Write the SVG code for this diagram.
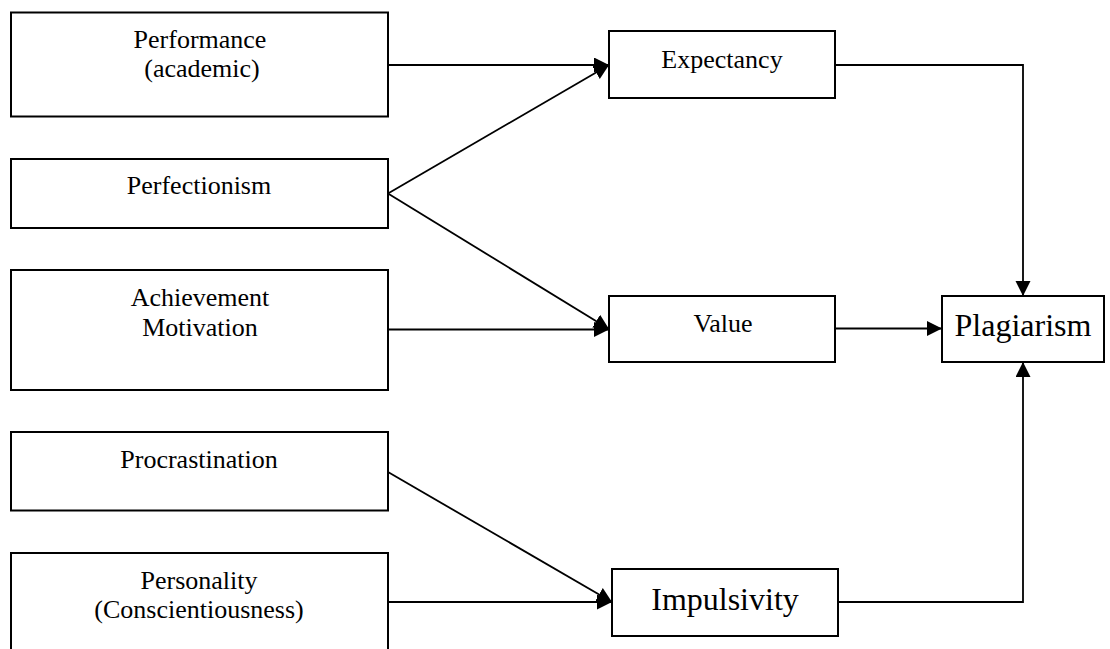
<svg xmlns="http://www.w3.org/2000/svg" width="1110" height="649" viewBox="0 0 1110 649">
<style>
.box{fill:#fff;stroke:#000;stroke-width:2}
.lbl{font-family:"Liberation Serif","Times New Roman",serif;font-size:26px;fill:#000;text-anchor:middle}
.big{font-size:32px}
.con{fill:none;stroke:#000;stroke-width:1.8}
</style>
<defs>
<marker id="ah" markerUnits="userSpaceOnUse" markerWidth="16" markerHeight="16" refX="15" refY="7.5" orient="auto">
<path d="M0,0 L15,7.5 L0,15 z" fill="#000"/>
</marker>
</defs>
<rect width="1110" height="649" fill="#fff"/>
<g id="performance">
<rect class="box" x="11" y="12.5" width="377" height="104"/>
<text class="lbl" x="200" y="48">Performance</text>
<text class="lbl" x="202" y="77">(academic)</text>
</g>
<g id="perfectionism">
<rect class="box" x="11" y="159" width="377" height="69"/>
<text class="lbl" x="199" y="194">Perfectionism</text>
</g>
<g id="achievement">
<rect class="box" x="11" y="270" width="377" height="120"/>
<text class="lbl" x="200" y="306">Achievement</text>
<text class="lbl" x="200" y="336">Motivation</text>
</g>
<g id="procrastination">
<rect class="box" x="11" y="432" width="377" height="78.5"/>
<text class="lbl" x="199" y="468">Procrastination</text>
</g>
<g id="personality">
<rect class="box" x="11" y="553" width="377" height="110"/>
<text class="lbl" x="199" y="589">Personality</text>
<text class="lbl" x="199" y="618">(Conscientiousness)</text>
</g>
<g id="expectancy">
<rect class="box" x="609" y="31" width="226" height="67"/>
<text class="lbl" x="722" y="68">Expectancy</text>
</g>
<g id="value">
<rect class="box" x="609" y="296" width="226" height="66"/>
<text class="lbl" x="723" y="332">Value</text>
</g>
<g id="impulsivity">
<rect class="box" x="612" y="569" width="226" height="67"/>
<text class="lbl big" x="725" y="610">Impulsivity</text>
</g>
<g id="plagiarism">
<rect class="box" x="942" y="296" width="162" height="66"/>
<text class="lbl big" x="1023" y="336">Plagiarism</text>
</g>
<g id="connectors">
<path class="con" d="M388,65 L609,65" marker-end="url(#ah)"/>
<path class="con" d="M388,193.5 L609,65" marker-end="url(#ah)"/>
<path class="con" d="M388,193.5 L609,329" marker-end="url(#ah)"/>
<path class="con" d="M388,329.5 L609,329.5" marker-end="url(#ah)"/>
<path class="con" d="M388,472 L612,602" marker-end="url(#ah)"/>
<path class="con" d="M388,602 L612,602" marker-end="url(#ah)"/>
<path class="con" d="M835,65 L1023,65 L1023,296" marker-end="url(#ah)"/>
<path class="con" d="M835,328.5 L942,328.5" marker-end="url(#ah)"/>
<path class="con" d="M838,602 L1023,602 L1023,362" marker-end="url(#ah)"/>
</g>
</svg>
